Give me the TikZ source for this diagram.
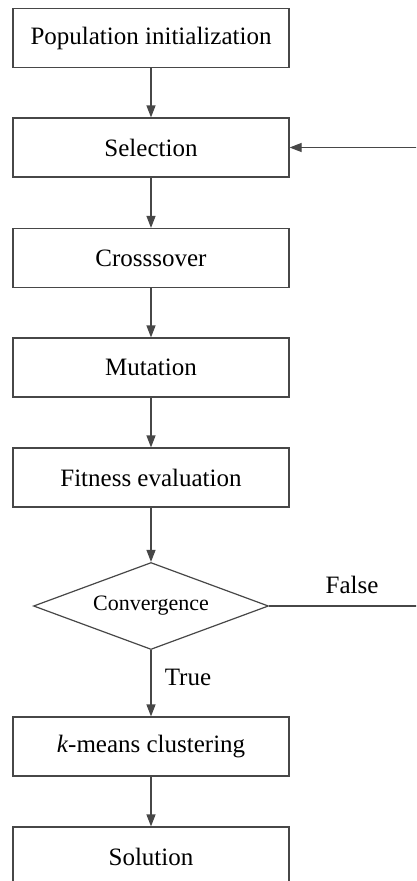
\documentclass[tikz,border=0pt]{standalone}
\usepackage{fontspec}
\setmainfont{Liberation Serif}
\usetikzlibrary{shapes.geometric,arrows.meta}
\begin{document}
\begin{tikzpicture}[x=1pt,y=-1pt,
  line width=1.2pt,
  stepbox/.style={draw=black!72,rectangle,minimum width=276pt,minimum height=59pt,inner sep=0pt,font=\fontsize{25}{28}\selectfont},
  decision/.style={draw=black!72,diamond,aspect=2.7,minimum width=235pt,minimum height=87pt,inner sep=0pt,font=\fontsize{22}{25}\selectfont},
  flow/.style={-{Triangle[length=12pt,width=9pt]},draw=black!72},
  lbl/.style={font=\fontsize{25}{28}\selectfont}]
\useasboundingbox (0,0) rectangle (416,881);
\clip (0,0) rectangle (416,881);
\fill[white] (0,0) rectangle (416,881);

\node[stepbox] (init) at (151,38) {Population initialization};
\node[stepbox] (sel)  at (151,147.5) {Selection};
\node[stepbox] (cross) at (151,258) {Crosssover};
\node[stepbox] (mut)  at (151,367.5) {Mutation};
\node[stepbox] (fit)  at (151,477.5) {Fitness evaluation};
\node[decision] (conv) at (151,606) {Convergence};
\node[stepbox] (km)   at (151,746.5) {\textit{k}-means clustering};
\node[stepbox] (sol)  at (151,856.5) {Solution};

\coordinate (back) at (420,606);

\draw[flow] (init) -- (sel);
\draw[flow] (sel) -- (cross);
\draw[flow] (cross) -- (mut);
\draw[flow] (mut) -- (fit);
\draw[flow] (fit) -- (conv);
\draw[flow] (conv) -- (km);
\draw[flow] (km) -- (sol);
\draw[flow] (conv.east) -- (back) |- (sel.east);

\node[lbl] (false) at (352,585) {False};
\node[lbl] (true) at (188,677) {True};
\end{tikzpicture}
\end{document}
